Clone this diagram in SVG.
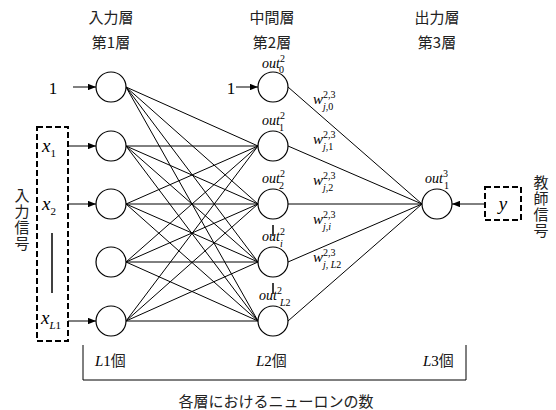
<svg xmlns="http://www.w3.org/2000/svg" width="556" height="410" viewBox="0 0 556 410">
  <defs>
    <marker id="arrow" viewBox="0 0 10 8" refX="10" refY="4" markerWidth="8" markerHeight="6.4" markerUnits="userSpaceOnUse" orient="auto">
      <path d="M0,0 L10,4 L0,8 Z" fill="#000"/>
    </marker>
    <style>
      .neuron { fill: #fff; stroke: #000; stroke-width: 1.2; }
      .conn line { stroke: #000; stroke-width: 1; }
      .arr { stroke: #000; stroke-width: 1.3; marker-end: url(#arrow); }
      .dash { fill: none; stroke: #000; stroke-width: 2; stroke-dasharray: 6 3; }
      .jp { font-family: "Noto Sans CJK JP", sans-serif; font-size: 15px; fill: #222; }
      .vert { writing-mode: vertical-rl; text-anchor: middle; }
      .it { font-family: "Liberation Serif", serif; font-style: italic; fill: #000; }
      .rm { font-family: "Liberation Serif", serif; fill: #000; }
    </style>
  </defs>
  <rect width="556" height="410" fill="#fff"/>

  <!-- layer headings -->
  <g id="headings">
    <text class="jp" x="111" y="23" text-anchor="middle">入力層</text>
    <text class="jp" x="111" y="48" text-anchor="middle">第1層</text>
    <text class="jp" x="272" y="23" text-anchor="middle">中間層</text>
    <text class="jp" x="272" y="48" text-anchor="middle">第2層</text>
    <text class="jp" x="437" y="23" text-anchor="middle">出力層</text>
    <text class="jp" x="437" y="48" text-anchor="middle">第3層</text>
  </g>

  <!-- connectors -->
  <g id="connectors" class="conn">
    <!-- layer 1 to layer 2 (fully connected, bias out0 excluded) -->
    <line x1="126" y1="87" x2="258" y2="146"/>
    <line x1="126" y1="87" x2="258" y2="204"/>
    <line x1="126" y1="87" x2="258" y2="262"/>
    <line x1="126" y1="87" x2="258" y2="321"/>
    <line x1="126" y1="146" x2="258" y2="146"/>
    <line x1="126" y1="146" x2="258" y2="204"/>
    <line x1="126" y1="146" x2="258" y2="262"/>
    <line x1="126" y1="146" x2="258" y2="321"/>
    <line x1="126" y1="204" x2="258" y2="146"/>
    <line x1="126" y1="204" x2="258" y2="204"/>
    <line x1="126" y1="204" x2="258" y2="262"/>
    <line x1="126" y1="204" x2="258" y2="321"/>
    <line x1="126" y1="262" x2="258" y2="146"/>
    <line x1="126" y1="262" x2="258" y2="204"/>
    <line x1="126" y1="262" x2="258" y2="262"/>
    <line x1="126" y1="262" x2="258" y2="321"/>
    <line x1="126" y1="321" x2="258" y2="146"/>
    <line x1="126" y1="321" x2="258" y2="204"/>
    <line x1="126" y1="321" x2="258" y2="262"/>
    <line x1="126" y1="321" x2="258" y2="321"/>
    <!-- layer 2 to output -->
    <line x1="288" y1="87" x2="422" y2="204"/>
    <line x1="288" y1="146" x2="422" y2="204"/>
    <line x1="288" y1="204" x2="422" y2="204"/>
    <line x1="288" y1="262" x2="422" y2="204"/>
    <line x1="288" y1="321" x2="422" y2="204"/>
    <!-- input arrows -->
    <line class="arr" x1="73" y1="87" x2="96" y2="87"/>
    <line class="arr" x1="68" y1="146" x2="96" y2="146"/>
    <line class="arr" x1="68" y1="204" x2="96" y2="204"/>
    <line class="arr" x1="68" y1="321" x2="96" y2="321"/>
    <line class="arr" x1="236" y1="87" x2="258" y2="87"/>
    <line class="arr" x1="485" y1="204" x2="452" y2="204"/>
  </g>

  <!-- input signal box -->
  <g id="input-signal">
    <rect class="dash" x="37" y="127" width="31" height="214"/>
    <text class="it" x="42" y="152" font-size="19">x<tspan font-size="11" dy="5" font-style="normal">1</tspan></text>
    <text class="it" x="42" y="210" font-size="19">x<tspan font-size="11" dy="5" font-style="normal">2</tspan></text>
    <line x1="52" y1="233" x2="52" y2="293" stroke="#000" stroke-width="1.5"/>
    <text class="it" x="41" y="324" font-size="19">x<tspan font-size="11" dy="5">L</tspan><tspan font-size="11" font-style="normal">1</tspan></text>
    <text class="jp vert" x="22" y="220" font-size="13" letter-spacing="1">入力信号</text>
  </g>

  <text class="rm" x="53" y="94" font-size="17" text-anchor="middle">1</text>
  <text class="rm" x="231" y="94" font-size="17" text-anchor="middle">1</text>

  <!-- layer 1 neurons -->
  <g id="l1-n0"><circle class="neuron" cx="111" cy="87" r="15"/></g>
  <g id="l1-n1"><circle class="neuron" cx="111" cy="146" r="15"/></g>
  <g id="l1-n2"><circle class="neuron" cx="111" cy="204" r="15"/></g>
  <g id="l1-n3"><circle class="neuron" cx="111" cy="262" r="15"/></g>
  <g id="l1-n4"><circle class="neuron" cx="111" cy="321" r="15"/></g>

  <!-- layer 2 neurons -->
  <g id="l2-n0">
    <circle class="neuron" cx="273" cy="87" r="15"/>
    <text class="it" x="262" y="68" font-size="14">out<tspan font-size="10" dy="-6" font-style="normal">2</tspan><tspan font-size="10" x="279" dy="11" font-style="normal">0</tspan></text>
  </g>
  <g id="l2-n1">
    <circle class="neuron" cx="273" cy="146" r="15"/>
    <text class="it" x="262" y="125" font-size="14">out<tspan font-size="10" dy="-6" font-style="normal">2</tspan><tspan font-size="10" x="279" dy="12" font-style="normal">1</tspan></text>
  </g>
  <g id="l2-n2">
    <circle class="neuron" cx="273" cy="204" r="15"/>
    <text class="it" x="262" y="183" font-size="14">out<tspan font-size="10" dy="-6" font-style="normal">2</tspan><tspan font-size="10" x="279" dy="12" font-style="normal">2</tspan></text>
  </g>
  <g id="l2-n3">
    <line x1="273" y1="225" x2="273" y2="236" stroke="#000" stroke-width="1.5"/>
    <circle class="neuron" cx="273" cy="262" r="15"/>
    <text class="it" x="262" y="241" font-size="14">out<tspan font-size="10" dy="-6" font-style="normal">2</tspan><tspan font-size="10" x="280" dy="12">i</tspan></text>
  </g>
  <g id="l2-n4">
    <line x1="273" y1="283" x2="273" y2="294" stroke="#000" stroke-width="1.5"/>
    <circle class="neuron" cx="273" cy="321" r="15"/>
    <text class="it" x="259" y="300" font-size="14">out<tspan font-size="10" dy="-6" font-style="normal">2</tspan><tspan font-size="10" x="280" dy="12">L</tspan><tspan font-size="10" font-style="normal">2</tspan></text>
  </g>

  <!-- weights -->
  <g id="weights" class="it">
    <text x="313" y="104" font-size="15">w<tspan font-size="10" dy="-6" font-style="normal">2,3</tspan><tspan font-size="10" x="323" dy="12">j</tspan><tspan font-size="10" font-style="normal">,0</tspan></text>
    <text x="313" y="144" font-size="15">w<tspan font-size="10" dy="-6" font-style="normal">2,3</tspan><tspan font-size="10" x="323" dy="12">j</tspan><tspan font-size="10" font-style="normal">,1</tspan></text>
    <text x="313" y="185" font-size="15">w<tspan font-size="10" dy="-6" font-style="normal">2,3</tspan><tspan font-size="10" x="323" dy="12">j</tspan><tspan font-size="10" font-style="normal">,2</tspan></text>
    <text x="313" y="224" font-size="15">w<tspan font-size="10" dy="-6" font-style="normal">2,3</tspan><tspan font-size="10" x="323" dy="12">j</tspan><tspan font-size="10" font-style="normal">,</tspan><tspan font-size="10">i</tspan></text>
    <text x="313" y="262" font-size="15">w<tspan font-size="10" dy="-6" font-style="normal">2,3</tspan><tspan font-size="10" x="323" dy="12">j</tspan><tspan font-size="10" font-style="normal">, </tspan><tspan font-size="10">L</tspan><tspan font-size="10" font-style="normal">2</tspan></text>
  </g>

  <!-- output neuron -->
  <g id="l3-n1">
    <circle class="neuron" cx="437" cy="204" r="15"/>
    <text class="it" x="425" y="183" font-size="14">out<tspan font-size="10" dy="-6" font-style="normal">3</tspan><tspan font-size="10" x="444" dy="12" font-style="normal">1</tspan></text>
  </g>

  <!-- teacher signal -->
  <g id="teacher-signal">
    <rect class="dash" x="485" y="187" width="36" height="33"/>
    <text class="it" x="503" y="210" font-size="19" text-anchor="middle">y</text>
    <text class="jp vert" x="541" y="207" font-size="15" letter-spacing="1">教師信号</text>
  </g>

  <!-- neuron count bracket -->
  <g id="neuron-count">
    <path d="M83,345 V380 H466 V345" fill="none" stroke="#000" stroke-width="1"/>
    <text x="95" y="366" font-size="15"><tspan class="it">L</tspan><tspan class="rm">1</tspan><tspan class="jp" font-size="15">個</tspan></text>
    <text x="256" y="366" font-size="15"><tspan class="it">L</tspan><tspan class="rm">2</tspan><tspan class="jp" font-size="15">個</tspan></text>
    <text x="423" y="366" font-size="15"><tspan class="it">L</tspan><tspan class="rm">3</tspan><tspan class="jp" font-size="15">個</tspan></text>
    <text class="jp" x="276" y="407" font-size="16" text-anchor="middle">各層におけるニューロンの数</text>
  </g>
</svg>
